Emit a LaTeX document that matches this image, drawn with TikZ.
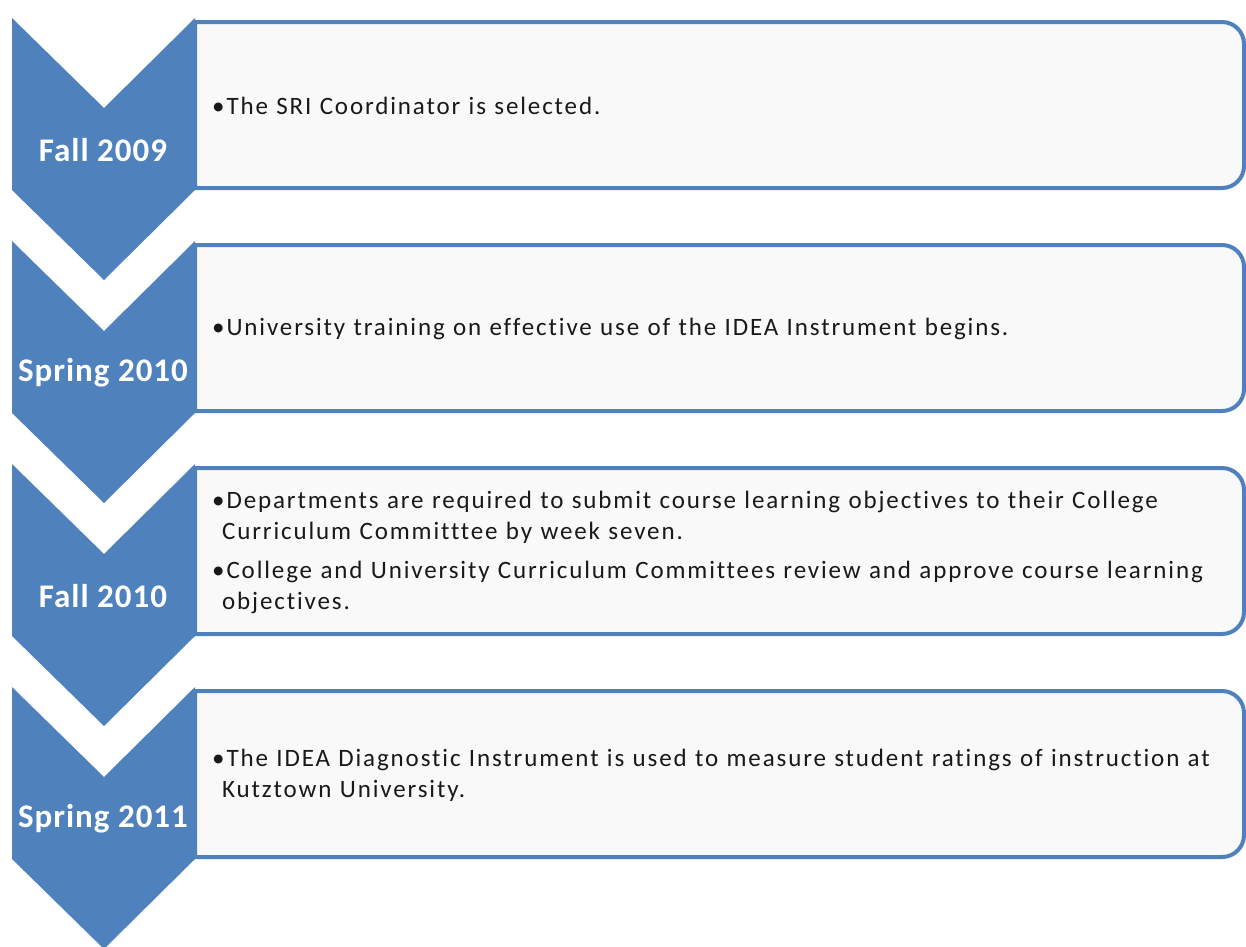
\documentclass[tikz,border=0pt]{standalone}
\usepackage{fontspec}
\setmainfont{Carlito}[Ligatures={NoCommon}]
\newfontfamily\itemfont{Carlito}[Ligatures={NoCommon}, LetterSpace=7.5]
\newfontfamily\periodfont{Carlito}[LetterSpace=3]
\definecolor{chevblue}{HTML}{4F81BD}
\definecolor{boxgray}{HTML}{F9F9F9}
\newcommand\eventitem[1]{\setlength\parskip{8pt}\hangindent=10pt\hangafter=1\textbullet#1\par}

\begin{document}
\begin{tikzpicture}[x=1pt,y=-1pt]
  \tikzset{
    chevron/.style={fill=chevblue, draw=none},
    period/.style={font=\periodfont\fontsize{33}{38}\selectfont\bfseries, text=white, inner sep=0pt},
    eventbox/.style={draw=chevblue, line width=4pt, fill=boxgray},
    events/.style={anchor=west, text width=1030pt, align=left, inner sep=0pt,
      font=\itemfont\fontsize{25}{31}\selectfont, text=black!90}
  }

  \useasboundingbox (0,0) rectangle (1246,946);

  % boxes, rounded on the right only
  \draw[eventbox] (195,188) -- (195,22) [rounded corners=22pt] -- (1244,22) -- (1244,188) [sharp corners] -- cycle;
  \draw[eventbox] (195,411) -- (195,245) [rounded corners=22pt] -- (1244,245) -- (1244,411) [sharp corners] -- cycle;
  \draw[eventbox] (195,634) -- (195,468) [rounded corners=22pt] -- (1244,468) -- (1244,634) [sharp corners] -- cycle;
  \draw[eventbox] (195,857) -- (195,691) [rounded corners=22pt] -- (1244,691) -- (1244,857) [sharp corners] -- cycle;

  % chevrons
  \fill[chevron] (12,18) -- (104,108) -- (195,18) -- (195,190) -- (104,280) -- (12,190) -- cycle;
  \fill[chevron] (12,241) -- (104,331) -- (195,241) -- (195,413) -- (104,503) -- (12,413) -- cycle;
  \fill[chevron] (12,464) -- (104,554) -- (195,464) -- (195,636) -- (104,726) -- (12,636) -- cycle;
  \fill[chevron] (12,687) -- (104,777) -- (195,687) -- (195,859) -- (104,949) -- (12,859) -- cycle;

  \node[period] (fall09) at (103,150) {Fall 2009};
  \node[period] (spring10) at (103,373) {Spring 2010};
  \node[period] (fall10) at (103,596) {Fall 2010};
  \node[period] (spring11) at (103,819) {Spring 2011};

  \node[events] (ev1) at (212,106) {\eventitem{The SRI Coordinator is selected.}};
  \node[events] (ev2) at (212,329) {\eventitem{University training on effective use of the IDEA Instrument begins.}};
  \node[events] (ev3) at (212,552) {%
    \eventitem{Departments are required to submit course learning objectives to their College\newline Curriculum Committtee by week seven.}%
    \eventitem{College and University Curriculum Committees review and approve course learning\newline objectives.}};
  \node[events] (ev4) at (212,775) {\eventitem{The IDEA Diagnostic Instrument is used to measure student ratings of instruction at\newline Kutztown University.}};
\end{tikzpicture}
\end{document}
